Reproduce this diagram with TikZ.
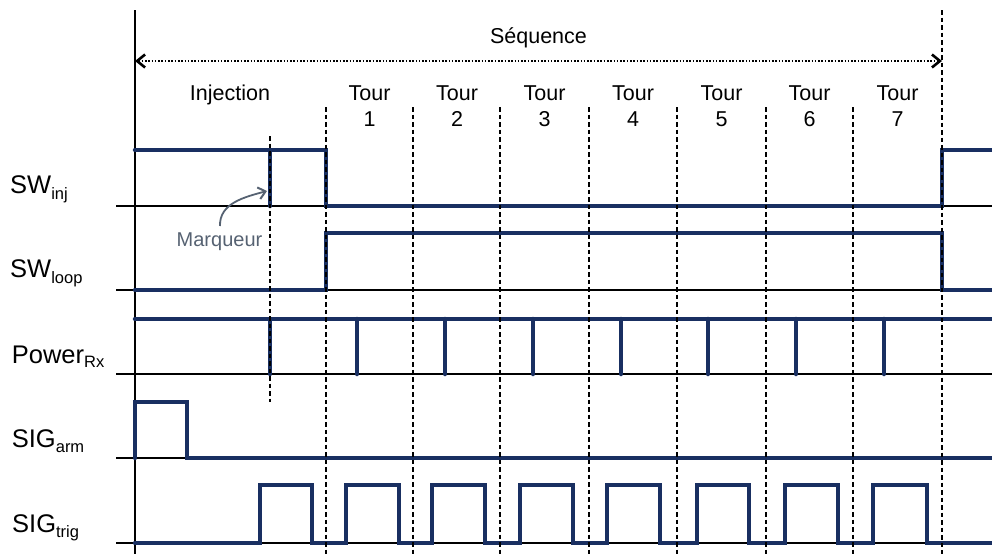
\documentclass[tikz,border=0pt]{standalone}
\usepackage{fontspec}
\setmainfont{Liberation Sans}
\usetikzlibrary{arrows.meta}
\definecolor{sigblue}{RGB}{25,47,97}
\definecolor{markgray}{RGB}{86,98,114}
\tikzset{
  sig/.style={draw=sigblue, line width=4.5pt, line join=miter, line cap=round},
  baseln/.style={draw=black, line width=2pt},
  axisln/.style={draw=black, line width=2pt},
  divider/.style={draw=black, line width=1.7pt, dash pattern=on 4.5pt off 3pt},
  seqarrow/.style={draw=black, line width=1.7pt, dash pattern=on 1.6pt off 1.7pt,
    {Straight Barb[length=8pt,width=13pt,line width=2.6pt]}-{Straight Barb[length=8pt,width=13pt,line width=2.6pt]}},
  markarrow/.style={draw=markgray, line width=1.8pt, -{Straight Barb[length=7pt,width=12pt,line width=2pt]}},
  lbl/.style={anchor=base west, inner sep=0pt, font=\fontsize{25.5}{30}\selectfont},
  txt/.style={anchor=base, inner sep=0pt, font=\fontsize{21.5}{26}\selectfont},
  marktxt/.style={anchor=base, inner sep=0pt, text=markgray, font=\fontsize{20}{24}\selectfont},
}
\newcommand{\sublbl}[3]{#1\raisebox{-#3pt}{\fontsize{16.5}{20}\selectfont #2}}
\begin{document}
\begin{tikzpicture}[x=1pt,y=-1pt]
\useasboundingbox (0,0) rectangle (992,554);
% baselines
\foreach \yy in {206,290,374,458,543}
  \draw[baseln] (116,\yy) -- (992,\yy);
% axis
\draw[axisln] (135,10) -- (135,554);
% signals
\draw[sig] (135,150) -- (326,150) -- (326,206) -- (942,206) -- (942,150) -- (992,150);
\draw[sig] (270,150) -- (270,206);
\draw[sig] (135,290) -- (326,290) -- (326,233) -- (942,233) -- (942,290) -- (992,290);
\draw[sig] (135,319) -- (992,319);
\foreach \xx in {270,357,445,533,621,708,796,884}
  \draw[sig] (\xx,319) -- (\xx,374);
\draw[sig] (135,458) -- (135,402) -- (187,402) -- (187,458) -- (992,458);
\draw[sig] (135,543) -- (260,543)
  -- (260,485) -- (312,485) -- (312,543) -- (346,543)
  -- (346,485) -- (399,485) -- (399,543) -- (432,543)
  -- (432,485) -- (485,485) -- (485,543) -- (520,543)
  -- (520,485) -- (573,485) -- (573,543) -- (607,543)
  -- (607,485) -- (660,485) -- (660,543) -- (697,543)
  -- (697,485) -- (749,485) -- (749,543) -- (785,543)
  -- (785,485) -- (838,485) -- (838,543) -- (873,543)
  -- (873,485) -- (927,485) -- (927,543) -- (992,543);
% dividers
\draw[divider] (270,136) -- (270,402);
\foreach \xx in {326,413,500,589,677,766,853}
  \draw[divider] (\xx,107) -- (\xx,554);
\draw[divider] (942,10) -- (942,554);
% sequence arrow
\coordinate (seqL) at (135,61);
\coordinate (seqR) at (942,61);
\draw[seqarrow] (seqL) -- (seqR);
\node[txt] (seq) at (538.5,43.3) {Séquence};
% phase labels
\node[txt] (inj) at (230,100.7) {Injection};
\foreach \cx/\n in {369.5/1,457/2,544.5/3,633/4,721.5/5,809.5/6,897.5/7}{
  \node[txt] (tour\n) at (\cx,100.7) {Tour};
  \node[txt] (num\n) at (\cx,126.7) {\n};
}
% marker
\node[marktxt] (marq) at (219.5,246.7) {Marqueur};
\coordinate (mkstart) at (220,226);
\coordinate (mkend) at (267,191);
\draw[markarrow] (mkstart) to[out=92,in=195] (mkend);
% signal labels
\node[lbl] (lswinj) at (10,193.3) {\sublbl{SW}{inj}{6.5}};
\node[lbl] (lswloop) at (10,277.3) {\sublbl{SW}{loop}{6}};
\node[lbl] (lpow) at (11.7,363.3) {\sublbl{Power}{Rx}{4.5}};
\node[lbl] (larm) at (11.7,447.3) {\sublbl{SIG}{arm}{5.5}};
\node[lbl] (ltrig) at (12,532.3) {\sublbl{SIG}{trig}{5.5}};
\end{tikzpicture}
\end{document}
